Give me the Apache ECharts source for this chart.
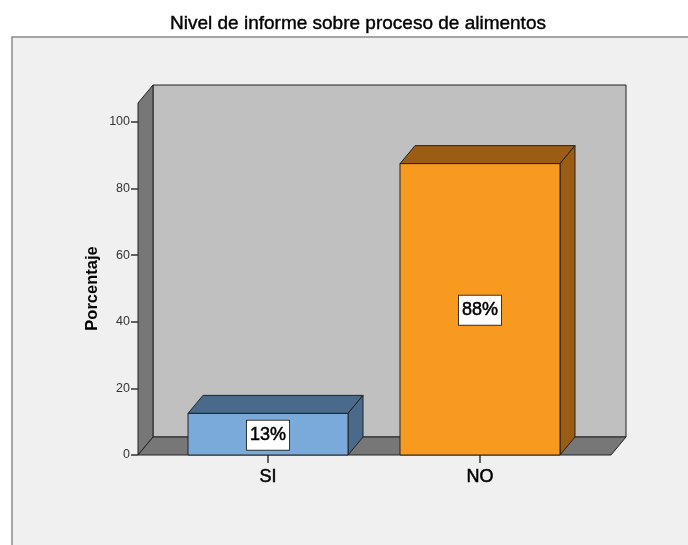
<!DOCTYPE html>
<html>
<head>
<meta charset="utf-8">
<script src="https://cdn.jsdelivr.net/npm/echarts@6/dist/echarts.min.js"></script>
<style>
  html, body { margin: 0; padding: 0; background: #fff; }
  #chart { width: 688px; height: 545px; }
</style>
</head>
<body>
<div id="chart"></div>
<script>
// datos
const categories = ['SI', 'NO'];
const percentages = [12.5, 87.5];
const yMin = 0;
const yMax = 100;
const yInterval = 20;

// estilo 3D
const DX = 15, DY = 18;          // profundidad
const WALL_TOP = 105.7;          // alto de las paredes en unidades del eje
const HALF_BAR = 80;
const frontColors = ['#7aaad9', '#f89a1f'];
const sideColors = ['#4a6a8b', '#9a5d13'];
const EDGE = '#222';
const FONT = '"Liberation Sans", Arial, sans-serif';

let chart = echarts.init(document.getElementById('chart'));

function renderWalls(params, api) {
  const cs = params.coordSys;
  const x0 = cs.x - 24, x1 = cs.x + cs.width + 25;
  const y0 = api.coord([0, 0])[1];
  const yt = api.coord([0, WALL_TOP])[1];
  const st = { stroke: EDGE, lineWidth: 1 };
  return {
    type: 'group',
    children: [
      { type: 'rect', shape: { x: x0 + DX, y: yt - DY, width: x1 - x0, height: y0 - yt },
        style: Object.assign({ fill: '#c0c0c0' }, st) },
      { type: 'polygon', shape: { points: [[x0, yt], [x0 + DX, yt - DY], [x0 + DX, y0 - DY], [x0, y0]] },
        style: Object.assign({ fill: '#777777' }, st) },
      { type: 'polygon', shape: { points: [[x0, y0], [x0 + DX, y0 - DY], [x1 + DX, y0 - DY], [x1, y0]] },
        style: Object.assign({ fill: '#777777' }, st) }
    ]
  };
}

function renderBar(params, api) {
  const i = api.value(0);
  const v = api.value(1);
  const top = api.coord([i, v]);
  const base = api.coord([i, 0]);
  const xa = top[0] - HALF_BAR, xb = top[0] + HALF_BAR;
  const yt = top[1], yb = base[1];
  const st = { stroke: EDGE, lineWidth: 1 };
  return {
    type: 'group',
    children: [
      { type: 'polygon', shape: { points: [[xa, yt], [xa + DX, yt - DY], [xb + DX, yt - DY], [xb, yt]] },
        style: Object.assign({ fill: sideColors[i] }, st) },
      { type: 'polygon', shape: { points: [[xb, yt], [xb + DX, yt - DY], [xb + DX, yb - DY], [xb, yb]] },
        style: Object.assign({ fill: sideColors[i] }, st) },
      { type: 'rect', shape: { x: xa, y: yt, width: xb - xa, height: yb - yt },
        style: Object.assign({ fill: frontColors[i] }, st) },
      { type: 'text', x: top[0], y: (yt + yb) / 2 + 1,
        style: {
          text: Math.round(v) + '%', align: 'center', verticalAlign: 'middle',
          font: '18px ' + FONT, fill: '#000', stroke: '#000', lineWidth: 0.5,
          backgroundColor: '#fff', borderColor: '#333', borderWidth: 1, padding: [6, 3, 5, 3]
        } }
    ]
  };
}

chart.setOption({
  backgroundColor: '#ffffff',
  animation: false,
  title: {
    text: 'Nivel de informe sobre proceso de alimentos',
    left: 165,
    top: 9,
    textStyle: { fontFamily: FONT, fontSize: 19, fontWeight: 'normal', color: '#000',
      textBorderColor: '#000', textBorderWidth: 0.4 }
  },
  graphic: [
    { type: 'rect', z: -10, silent: true,
      shape: { x: 12, y: 37, width: 700, height: 530 },
      style: { fill: '#f0f0f0', stroke: '#8a8a8a', lineWidth: 1.5 } }
  ],
  grid: { left: 162, right: 102, top: 122, bottom: 90, outerBoundsMode: 'none' },
  xAxis: {
    type: 'category',
    data: categories,
    axisLine: { show: false },
    axisTick: { show: true, alignWithLabel: true, length: 8, lineStyle: { color: '#333', width: 1.5 } },
    axisLabel: { fontFamily: FONT, fontSize: 18, color: '#000', margin: 13,
      textBorderColor: '#000', textBorderWidth: 0.5 },
    splitLine: { show: false }
  },
  yAxis: {
    type: 'value',
    min: yMin,
    max: yMax,
    interval: yInterval,
    offset: 24,
    name: 'Porcentaje',
    nameLocation: 'middle',
    nameGap: 37,
    nameMoveOverlap: false,
    nameTextStyle: { fontFamily: FONT, fontSize: 16.5, fontWeight: 'bold', color: '#000' },
    axisLine: { show: false },
    axisTick: { show: true, length: 7, lineStyle: { color: '#333', width: 1.5 } },
    axisLabel: { fontFamily: FONT, fontSize: 12.5, color: '#333', margin: 8 },
    splitLine: { show: false }
  },
  series: [
    {
      type: 'custom',
      name: 'paredes',
      silent: true,
      clip: false,
      z: 1,
      renderItem: renderWalls,
      data: [[0, 0]]
    },
    {
      type: 'custom',
      name: 'Porcentaje',
      clip: false,
      z: 2,
      renderItem: renderBar,
      encode: { x: 0, y: 1 },
      data: categories.map((c, i) => [i, percentages[i]])
    }
  ]
});
</script>
</body>
</html>
